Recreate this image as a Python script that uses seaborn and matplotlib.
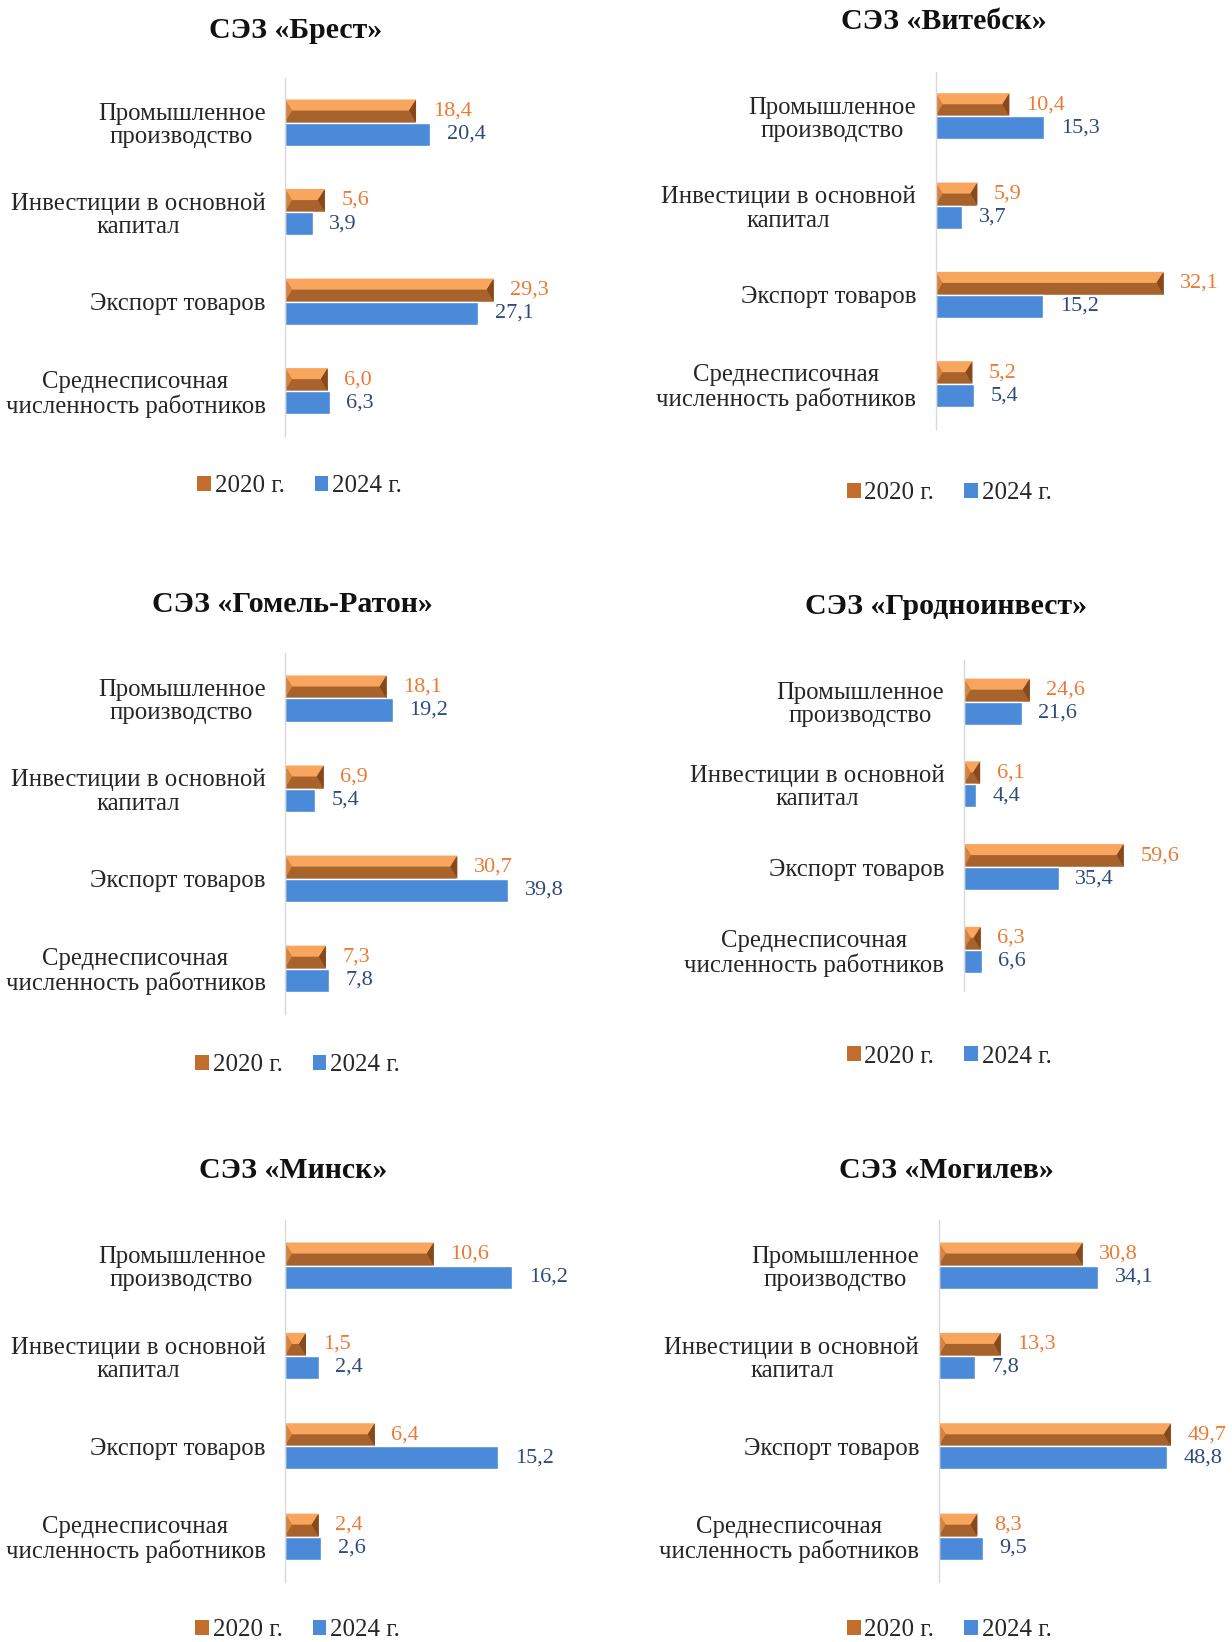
import pandas as pd
import matplotlib.pyplot as plt
import seaborn as sns
from matplotlib.patches import Polygon, Patch

# Category labels (same for every zone)
categories = ['Промышленное\nпроизводство', 'Инвестиции в основной\nкапитал',
              'Экспорт товаров', 'Среднесписочная\nчисленность работников']
years = ['2020 г.', '2024 г.']

# Values per zone
titles = ['СЭЗ «Брест»', 'СЭЗ «Витебск»', 'СЭЗ «Гомель-Ратон»',
          'СЭЗ «Гродноинвест»', 'СЭЗ «Минск»', 'СЭЗ «Могилев»']
brest_2020 = [18.4, 5.6, 29.3, 6.0]
brest_2024 = [20.4, 3.9, 27.1, 6.3]
vitebsk_2020 = [10.4, 5.9, 32.1, 5.2]
vitebsk_2024 = [15.3, 3.7, 15.2, 5.4]
gomel_2020 = [18.1, 6.9, 30.7, 7.3]
gomel_2024 = [19.2, 5.4, 39.8, 7.8]
grodno_2020 = [24.6, 6.1, 59.6, 6.3]
grodno_2024 = [21.6, 4.4, 35.4, 6.6]
minsk_2020 = [10.6, 1.5, 6.4, 2.4]
minsk_2024 = [16.2, 2.4, 15.2, 2.6]
mogilev_2020 = [30.8, 13.3, 49.7, 8.3]
mogilev_2024 = [34.1, 7.8, 48.8, 9.5]

series = [(brest_2020, brest_2024), (vitebsk_2020, vitebsk_2024),
          (gomel_2020, gomel_2024), (grodno_2020, grodno_2024),
          (minsk_2020, minsk_2024), (mogilev_2020, mogilev_2024)]

# Layout in a 1176x1568 reference frame:
# axis x, first row centre y, row spacing, axes width, px per unit, title (x, y), legend (x, y)
layout = [
    (272, 117, 85.5, 300, 6.80, (282, 29), (286, 464)),
    (893, 111, 85.3, 270, 6.78, (901, 21), (906, 471)),
    (272, 667, 86.0, 300, 5.36, (279, 577), (284, 1017)),
    (920, 670, 79.0, 260, 2.56, (903, 579), (906, 1009)),
    (272, 1208.5, 86.3, 300, 13.4, (280, 1118), (284, 1557)),
    (896, 1208.5, 86.3, 270, 4.46, (903, 1118), (906, 1557)),
]

W, H = 1176, 1568
BASE = '#A8632C'
LIGHT = '#F8A65E'
LEFT = '#D6843E'
RIGHT = '#87491B'
BLUE = '#4A8AD8'
TXT_OR = '#EC7A35'
TXT_BL = '#2F4A7E'
FS = 16
FS_TICK = 17.8

sns.set_theme(style='white')
plt.rcParams['font.family'] = ['Liberation Serif', 'DejaVu Serif']

fig = plt.figure(figsize=(12.32, 16.42), dpi=100)

for title, (v20, v24), (ax_x, y0, sp, aw, ppu, tpos, lpos) in zip(titles, series, layout):
    top = y0 - 0.5 * sp
    ax = fig.add_axes([ax_x / W, 1 - (top + 4 * sp) / H, aw / W, 4 * sp / H])
    df = pd.DataFrame({'cat': categories * 2,
                       'year': [years[0]] * 4 + [years[1]] * 4,
                       'val': v20 + v24})
    sns.barplot(data=df, y='cat', x='val', hue='year', palette=[BASE, BLUE],
                width=44 / sp, orient='h', saturation=1, legend=False, ax=ax)
    ax.set_xlim(0, aw / ppu)
    ax.set_ylim(3.5, -0.5)

    # bevel effect on the 2020 bars
    unit = ax.transData.transform((1, 0))[0] - ax.transData.transform((0, 0))[0]
    b = 7 / unit
    for p in ax.containers[0]:
        x0, x1 = p.get_x(), p.get_x() + p.get_width()
        ya, yb = p.get_y(), p.get_y() + p.get_height()
        ym = ya + 0.48 * p.get_height()
        bb = min(b, (x1 - x0) / 2)
        ax.add_patch(Polygon([(x0, ya), (x1, ya), (x1 - bb, ym), (x0 + bb, ym)],
                             closed=True, color=LIGHT, lw=0))
        ax.add_patch(Polygon([(x0, ya), (x0 + bb, ym), (x0, yb)], closed=True, color=LEFT, lw=0))
        ax.add_patch(Polygon([(x1, ya), (x1 - bb, ym), (x1, yb)], closed=True, color=RIGHT, lw=0))

    ax.bar_label(ax.containers[0], labels=[f'{v:.1f}'.replace('.', ',') for v in v20],
                 padding=12, color=TXT_OR, fontsize=FS)
    ax.bar_label(ax.containers[1], labels=[f'{v:.1f}'.replace('.', ',') for v in v24],
                 padding=12, color=TXT_BL, fontsize=FS)

    ax.set_xlabel('')
    ax.set_ylabel('')
    ax.set_xticks([])
    ax.tick_params(axis='y', length=0, pad=14, labelsize=FS_TICK, labelcolor='#262626')
    for t in ax.get_yticklabels():
        t.set_multialignment('center')
        t.set_linespacing(1.08)
    for s in ['top', 'right', 'bottom']:
        ax.spines[s].set_visible(False)
    ax.spines['left'].set_color('#D9D9D9')
    ax.spines['left'].set_linewidth(1)

    fig.text(tpos[0] / W, 1 - tpos[1] / H, title, ha='center', va='center',
             fontsize=21.5, fontweight='bold', color='#111111')

    handles = [Patch(facecolor='#C46E2E', edgecolor='none'),
               Patch(facecolor=BLUE, edgecolor='none')]
    fig.legend(handles, years, loc='center', bbox_to_anchor=(lpos[0] / W, 1 - lpos[1] / H),
               ncol=2, frameon=False, fontsize=18, handlelength=0.55, handleheight=0.55,
               handletextpad=0.15, columnspacing=1.2, labelcolor='#262626')

fig.savefig('out.png', dpi=100, facecolor='white')
